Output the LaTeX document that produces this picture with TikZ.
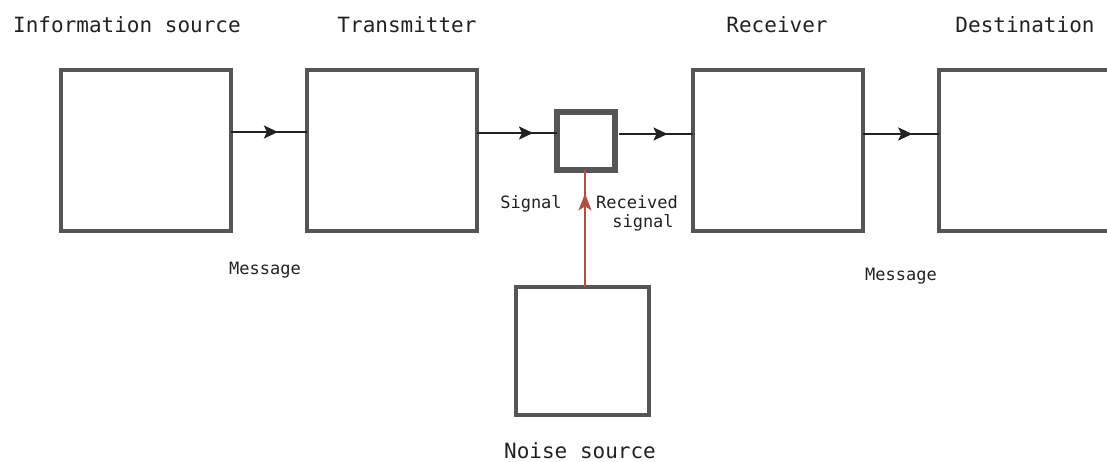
\documentclass[tikz,border=0pt]{standalone}
\usepackage{fontspec}
\setmonofont{DejaVu Sans Mono}
\usetikzlibrary{arrows.meta,decorations.markings}
\definecolor{boxgray}{HTML}{555555}
\definecolor{noisered}{HTML}{B0504A}
\definecolor{txt}{HTML}{222222}
\begin{document}
\begin{tikzpicture}[x=1pt,y=-1pt,
  blk/.style={draw=boxgray,line width=4pt,minimum width=170pt,minimum height=161pt,inner sep=0pt,outer sep=0pt},
  title/.style={font=\ttfamily\fontsize{21}{24}\selectfont,text=txt,anchor=base,inner sep=0pt},
  lbl/.style={font=\ttfamily\fontsize{17}{19}\selectfont,text=txt,anchor=base,inner sep=0pt},
  flow/.style={line width=2.2pt,draw=txt,postaction={decorate},
    decoration={markings,mark=at position #1 with {\arrow{Stealth[length=14pt,width=13pt,inset=3pt]}}}},
  noiseflow/.style={line width=1.6pt,draw=noisered,postaction={decorate},
    decoration={markings,mark=at position #1 with {\arrow[noisered]{Stealth[length=17pt,width=13pt,inset=4pt]}}}},
]
\useasboundingbox (0,0) rectangle (1107,461);
\clip (0,0) rectangle (1107,461);

% boxes
\node[blk] (info) at (145.5,150.5) {};
\node[blk] (trans) at (392,150.5) {};
\node[blk] (chan) at (586,141) [minimum width=58pt,minimum height=58pt,line width=5.5pt] {};
\node[blk] (recv) at (777.5,150.5) {};
\node[blk] (dest) at (1024,150.5) {};
\node[blk] (noise) at (582.5,351) [minimum width=133pt,minimum height=128pt] {};

% titles
\node[title] (tinfo) at (127,32) {Information source};
\node[title] (ttrans) at (407,32) {Transmitter};
\node[title] (trecv) at (777,32) {Receiver};
\node[title] (tdest) at (1025,32) {Destination};
\node[title] (tnoise) at (580,458) {Noise source};

% labels
\node[lbl] (msg1) at (265,274) {Message};
\node[lbl] (msg2) at (901,280) {Message};
\node[lbl] (sig) at (531,208) {Signal};
\node[lbl] (rsig1) at (637,208) {Received};
\node[lbl] (rsig2) at (643,227) {signal};

% connectors
\draw[flow=0.62] (info.east |- 0,132) -- (trans.west |- 0,132);
\draw[flow=0.7] (trans.east |- 0,133) -- (chan.west |- 0,133);
\draw[flow=0.66] ([xshift=4pt]chan.east |- 0,134) -- (recv.west |- 0,134);
\draw[flow=0.65] (recv.east |- 0,134) -- (dest.west |- 0,134);
\draw[noiseflow=0.8] (noise.north -| 585,0) -- (chan.south -| 585,0);
\end{tikzpicture}
\end{document}
